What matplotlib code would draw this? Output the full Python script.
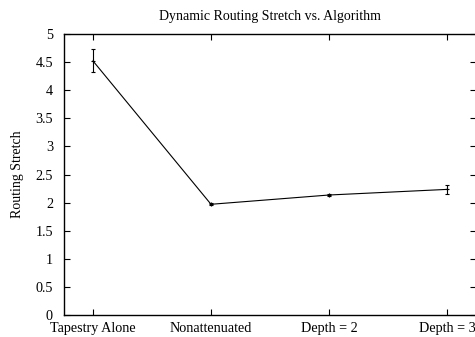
import matplotlib
matplotlib.use("Agg")
import matplotlib.pyplot as plt

categories = ["Tapestry Alone", "Nonattenuated", "Depth = 2", "Depth = 3"]
stretch = [4.52, 1.97, 2.135, 2.235]
err_low = [0.20, 0.02, 0.025, 0.085]
err_high = [0.21, 0.02, 0.025, 0.085]
yticks = [0, 0.5, 1, 1.5, 2, 2.5, 3, 3.5, 4, 4.5, 5]
ytick_labels = ["0", "0.5", "1", "1.5", "2", "2.5", "3", "3.5", "4", "4.5", "5"]

plt.rcParams['font.family'] = ['Liberation Serif', 'DejaVu Serif']

fig = plt.figure(figsize=(4.75, 3.37), dpi=100)
ax = fig.add_axes([64/475, 22/337, 412/475, 281/337])

x = list(range(len(categories)))
ax.errorbar(x, stretch, yerr=[err_low, err_high], color='black', lw=0.8,
            elinewidth=0.8, capsize=1.5, capthick=0.8, marker='+', ms=3, mew=0.8)

ax.set_xlim(-0.246, 3.246)
ax.set_ylim(0, 5)
ax.set_xticks(x)
ax.set_xticklabels(categories, fontsize=10.2)
ax.set_yticks(yticks)
ax.set_yticklabels(ytick_labels, fontsize=10.2)
ax.tick_params(direction='in', top=True, right=True, length=4, width=0.8)
ax.tick_params(axis='y', pad=8)
ax.tick_params(axis='x', pad=5)
for s in ax.spines.values():
    s.set_linewidth(1.0)
ax.set_ylabel("Routing Stretch", fontsize=10, labelpad=8)
ax.set_title("Dynamic Routing Stretch vs. Algorithm", fontsize=10, pad=10)

fig.savefig("out.png", dpi=100)
